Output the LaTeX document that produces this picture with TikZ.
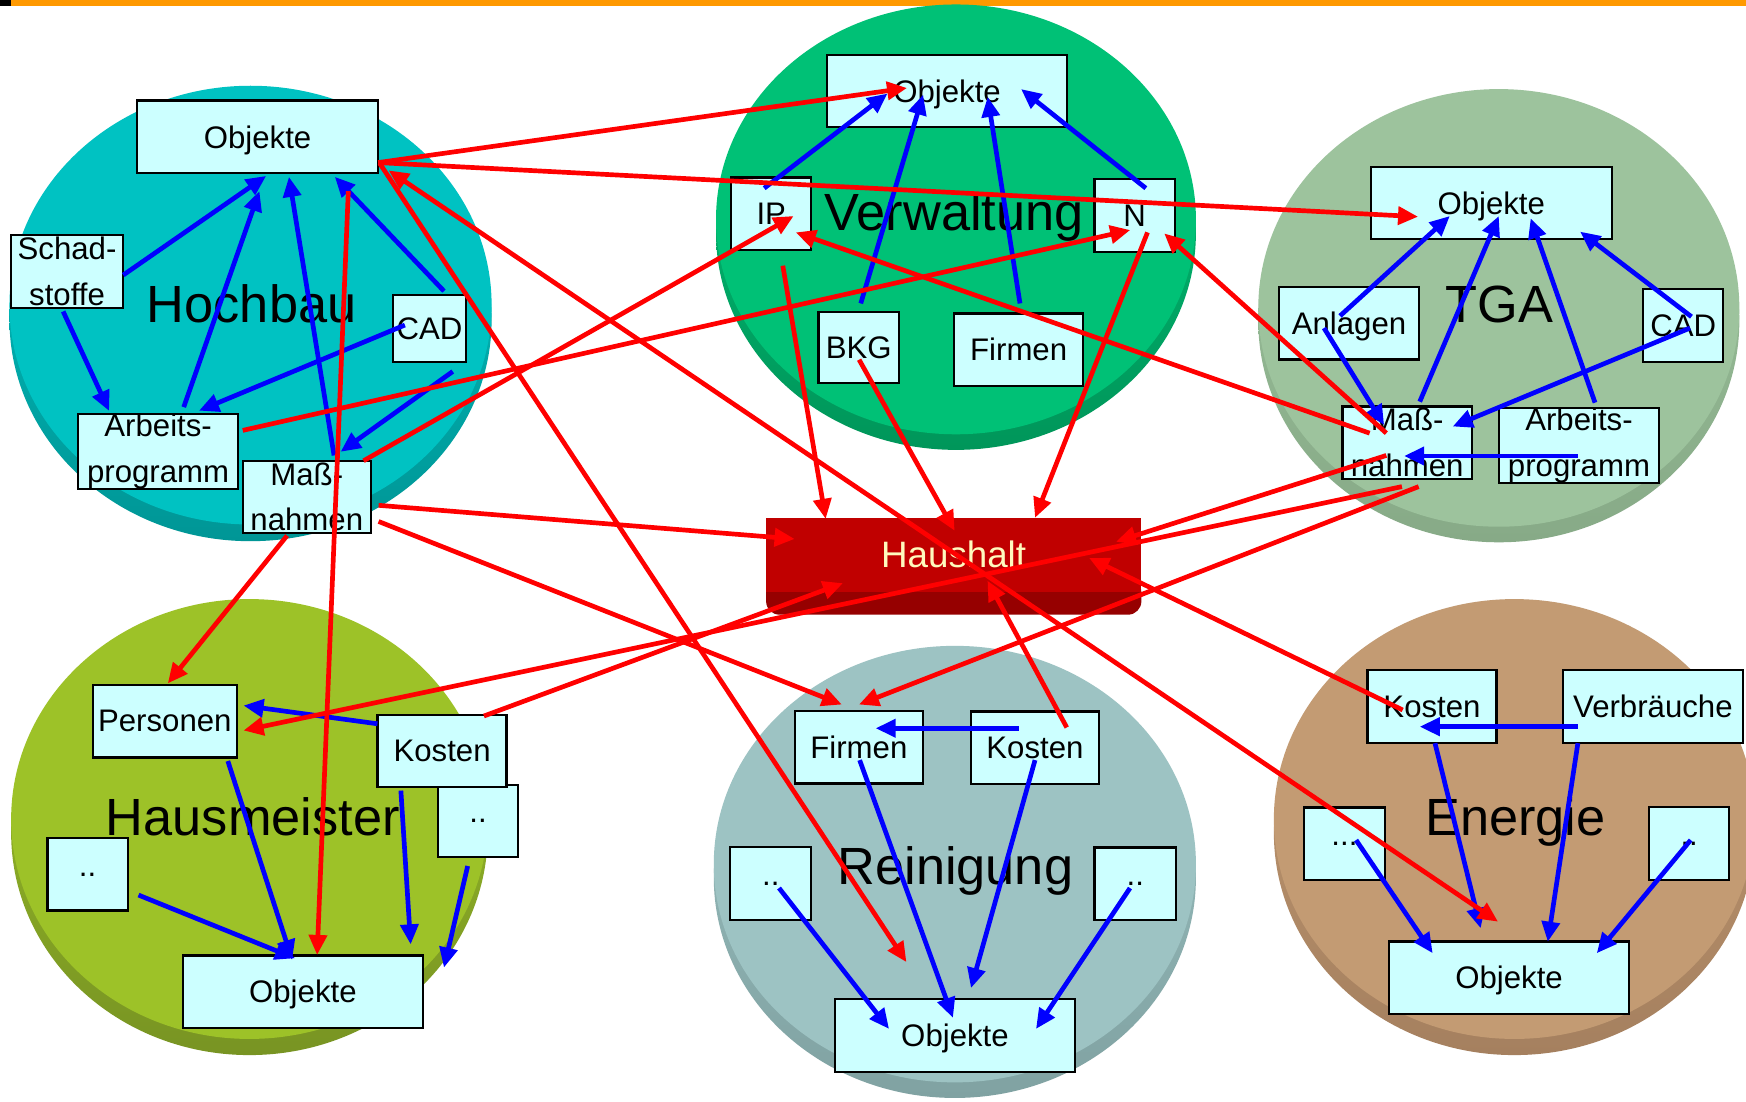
\documentclass[tikz,border=0pt]{standalone}
\usepackage{fontspec}
\setmainfont{Liberation Sans}
\usetikzlibrary{arrows.meta,calc}
\definecolor{boxfill}{HTML}{CCFFFF}
\definecolor{hochbau}{RGB}{0,194,194}
\definecolor{hochbaudk}{RGB}{0,150,150}
\definecolor{verw}{RGB}{0,193,118}
\definecolor{verwdk}{RGB}{0,150,90}
\definecolor{tga}{RGB}{157,195,157}
\definecolor{tgadk}{RGB}{135,170,135}
\definecolor{haus}{RGB}{157,194,40}
\definecolor{hausdk}{RGB}{120,148,35}
\definecolor{rein}{RGB}{157,195,195}
\definecolor{reindk}{RGB}{128,162,162}
\definecolor{ener}{RGB}{195,155,115}
\definecolor{enerdk}{RGB}{165,128,95}
\definecolor{hhred}{RGB}{192,0,0}
\definecolor{hhdark}{RGB}{150,0,0}
\definecolor{hhtext}{RGB}{255,250,190}
\definecolor{topbar}{RGB}{255,153,0}
\definecolor{arrowblue}{RGB}{0,0,255}
\definecolor{arrowred}{RGB}{255,0,0}
\begin{document}
\begin{tikzpicture}[x=1pt,y=-1pt,
  box/.style={draw=black, line width=2pt, fill=boxfill, inner sep=0pt, align=center,
    font=\fontsize{28}{41}\selectfont, minimum height=65pt},
  obox/.style={box, text depth=0pt},
  bigl/.style={font=\fontsize{47}{56}\selectfont, anchor=base, inner sep=0pt},
  barrow/.style={draw=arrowblue, line width=4.2pt, -{Triangle[length=18pt,width=16pt]}},
  rarrow/.style={draw=arrowred, line width=4.2pt, -{Triangle[length=18pt,width=16pt]}},
  rboth/.style={draw=arrowred, line width=4.2pt, {Triangle[length=18pt,width=16pt]}-{Triangle[length=18pt,width=16pt]}}]
\useasboundingbox (0,0) rectangle (1568,989);
\clip (0,0) rectangle (1568,989);
\fill[white] (0,0) rectangle (1568,989);
\fill[topbar] (0,0) rectangle (1568,5.3);
\fill[black] (0,0) rectangle (9.6,5.3);

% disks
\shade[top color=hochbau, bottom color=hochbaudk] (225,287) ellipse [x radius=216.5pt, y radius=199pt];
\fill[hochbau] (225,274) ellipse [x radius=216.5pt, y radius=197pt];
\shade[top color=verw, bottom color=verwdk] (858.5,209) ellipse [x radius=215.5pt, y radius=195pt];
\fill[verw] (858.5,197) ellipse [x radius=215.5pt, y radius=193pt];
\shade[top color=tga, bottom color=tgadk] (1346,288.5) ellipse [x radius=216pt, y radius=198.5pt];
\fill[tga] (1346,276.5) ellipse [x radius=216pt, y radius=196.5pt];
\shade[top color=haus, bottom color=hausdk] (224,748) ellipse [x radius=214pt, y radius=199.5pt];
\fill[haus] (224,735.5) ellipse [x radius=214pt, y radius=197.5pt];
\shade[top color=rein, bottom color=reindk] (857.5,788) ellipse [x radius=216.5pt, y radius=198pt];
\fill[rein] (857.5,776) ellipse [x radius=216.5pt, y radius=196pt];
\shade[top color=ener, bottom color=enerdk] (1360,748) ellipse [x radius=216pt, y radius=199.5pt];
\fill[ener] (1360,735.5) ellipse [x radius=216pt, y radius=197.5pt];

% disk labels
\node[bigl] (lHoch) at (226,290) {Hochbau};
\node[bigl] (lVerw) at (857,207) {Verwaltung};
\node[bigl] (lTGA) at (1346.7,290) {TGA};
\node[bigl] (lHaus) at (227,750) {Hausmeister};
\node[bigl] (lRein) at (858,794) {Reinigung};
\node[bigl] (lEner) at (1361,750) {Energie};

% Haushalt
\fill[hhdark, rounded corners=12pt] (688,520) -- (688,552) -- (1025,552) -- (1025,520) -- cycle;
\node[fill=hhred, minimum width=336.7pt, minimum height=66.4pt, inner sep=0pt, text=hhtext,
  font=\fontsize{33}{40}\selectfont] (hh) at (856.4,498.2) {Haushalt};

% Hochbau boxes
\node[obox, minimum width=216.6pt] (hObj) at (231.3,122.8) {Objekte};
\node[box, minimum width=101pt] (hSchad) at (60.2,243.8) {Schad-\\stoffe};
\node[box, minimum width=65.6pt, minimum height=60pt] (hCAD) at (385.8,295) {CAD};
\node[box, minimum width=144pt] (hArb) at (142,405.4) {Arbeits-\\programm};
\node[box, minimum width=115pt] (hMass) at (275.5,446.2) {Maß-\\nahmen};
% Verwaltung boxes
\node[obox, minimum width=215pt] (vObj) at (850.5,81.7) {Objekte};
\node[box, minimum width=72pt] (vIP) at (692.6,191.8) {IP};
\node[box, minimum width=72pt] (vN) at (1019,193.5) {N};
\node[box, minimum width=72.4pt, minimum height=64pt] (vBKG) at (771.2,312) {BKG};
\node[box, minimum width=115.6pt] (vFirm) at (914.8,314) {Firmen};
% TGA boxes
\node[obox, minimum width=216.4pt] (tObj) at (1339.2,182.3) {Objekte};
\node[obox, minimum width=126pt] (tAnl) at (1211.5,290.3) {Anlagen};
\node[box, minimum width=72pt] (tCAD) at (1511.6,292.3) {CAD};
\node[box, minimum width=116pt] (tMass) at (1263.7,397.5) {Maß-\\nahmen};
\node[box, minimum width=144pt] (tArb) at (1418,400.1) {Arbeits-\\programm};
% Hausmeister boxes
\node[box, minimum width=129pt] (mPers) at (148,647.7) {Personen};
\node[box, minimum width=71.5pt] (mDotR) at (429.3,737.4) {..};
\node[box, minimum width=115.8pt] (mKost) at (397,674.5) {Kosten};
\node[box, minimum width=72pt] (mDotL) at (78.7,785.2) {..};
\node[obox, minimum width=216pt] (mObj) at (272,890.5) {Objekte};
% Reinigung boxes
\node[box, minimum width=115.4pt] (rFirm) at (771.3,671.2) {Firmen};
\node[box, minimum width=115.2pt] (rKost) at (929.4,671.5) {Kosten};
\node[box, minimum width=72.7pt] (rDotL) at (692.2,793.4) {..};
\node[box, minimum width=73pt] (rDotR) at (1019.5,793.5) {..};
\node[obox, minimum width=216pt] (rObj) at (857.6,929.9) {Objekte};
% Energie boxes
\node[box, minimum width=116pt] (eKost) at (1286,634.4) {Kosten};
\node[box, minimum width=162pt] (eVerb) at (1484.4,634.4) {Verbräuche};
\node[box, minimum width=72.8pt] (eDotL) at (1207.4,757.7) {...};
\node[box, minimum width=72pt] (eDotR) at (1517,757.5) {..};
\node[obox, minimum width=215.5pt] (eObj) at (1355.2,877.9) {Objekte};

% blue arrows - Hochbau
\draw[barrow] ($(hSchad)+(50.5,3.2)$) -- ($(hObj)+(7.7,35.2)$);
\draw[barrow] ($(hSchad)+(-3.5,35.9)$) -- ($(hArb)+(-44,-36.4)$);
\draw[barrow] ($(hArb)+(23,-39.8)$) -- ($(hObj)+(1.7,48.8)$);
\draw[barrow] ($(hMass)+(24.5,-37.2)$) -- ($(hObj)+(28.2,36)$);
\draw[barrow] ($(hCAD)+(12.9,-33.6)$) -- ($(hObj)+(69.4,36)$);
\draw[barrow] ($(hCAD)+(-22.2,-3.1)$) -- ($(hArb)+(36.7,-36.6)$);
\draw[barrow] ($(hCAD)+(20.8,38.6)$) -- ($(hMass)+(30.4,-40.5)$);
% blue - Verwaltung
\draw[barrow] ($(vIP)+(-6.3,-22.8)$) -- ($(vObj)+(-53.5,2.3)$);
\draw[barrow] ($(vBKG)+(1.8,-39.5)$) -- ($(vObj)+(-21.5,3.3)$);
\draw[barrow] ($(vFirm)+(1.2,-41.5)$) -- ($(vObj)+(36.5,5.3)$);
\draw[barrow] ($(vN)+(10,-24.5)$) -- ($(vObj)+(66.5,-1.7)$);
% blue - TGA
\draw[barrow] ($(tAnl)+(-8.1,-6.6)$) -- ($(tObj)+(-37.2,11.7)$);
\draw[barrow] ($(tMass)+(11.3,-36.8)$) -- ($(tObj)+(6.8,11.7)$);
\draw[barrow] ($(tArb)+(14.4,-38.5)$) -- ($(tObj)+(35.4,13.7)$);
\draw[barrow] ($(tCAD)+(7.4,-7.9)$) -- ($(tObj)+(79.8,25.7)$);
\draw[barrow] ($(tCAD)+(6.1,2.3)$) -- ($(tMass)+(40.9,-14.5)$);
\draw[barrow] ($(tAnl)+(-22.5,4.3)$) -- ($(tMass)+(-20.7,-15.8)$);
\draw[barrow] ($(tArb)+(-1,9.4)$) -- ($(tMass)+(-2.7,12)$);
% blue - Hausmeister
\draw[barrow] ($(mKost)+(-58,-24.5)$) -- ($(mPers)+(70.7,-14.1)$);
\draw[barrow] ($(mPers)+(56.6,35.7)$) -- ($(mObj)+(-9.6,-28.5)$);
\draw[barrow] ($(mKost)+(-37,35.5)$) -- ($(mObj)+(96.8,-42.4)$);
\draw[barrow] ($(mDotR)+(-9.3,40.3)$) -- ($(mObj)+(126.7,-21.6)$);
\draw[barrow] ($(mDotL)+(45.7,18.6)$) -- ($(mObj)+(-7,-29.9)$);
% blue - Reinigung
\draw[barrow] ($(rKost)+(-14.6,-17.5)$) -- ($(rFirm)+(15.1,-17.2)$);
\draw[barrow] ($(rFirm)+(0.7,11.4)$) -- ($(rObj)+(-1.8,-15.9)$);
\draw[barrow] ($(rKost)+(0.1,11.1)$) -- ($(rObj)+(14.4,-42.6)$);
\draw[barrow] ($(rDotL)+(7.4,4.1)$) -- ($(rObj)+(-59.2,-5.9)$);
\draw[barrow] ($(rDotR)+(-4.7,4)$) -- ($(rObj)+(72.8,-5.9)$);
% blue - Energie
\draw[barrow] ($(eVerb)+(-67.4,18.2)$) -- ($(eKost)+(-11,18.2)$);
\draw[barrow] ($(eKost)+(2.7,33)$) -- ($(eObj)+(-25.5,-44.3)$);
\draw[barrow] ($(eVerb)+(-67.4,33)$) -- ($(eObj)+(34.8,-32.2)$);
\draw[barrow] ($(eDotL)+(10.4,-3.3)$) -- ($(eObj)+(-68.6,-21.9)$);
\draw[barrow] ($(eDotR)+(1.3,-3.1)$) -- ($(eObj)+(78.8,-21.9)$);

% red arrows
\draw[rarrow] ($(hObj)+(108.3,23.2)$) -- ($(vObj)+(-35.9,-2.7)$);
\draw[rarrow] ($(hObj)+(108.3,23.2)$) -- ($(tObj)+(-65.7,12.3)$);
\draw[rarrow] ($(hObj)+(109.7,23.9)$) -- ($(rObj)+(-43.6,-65.9)$);
\draw[rboth] ($(hObj)+(117.7,30.2)$) -- ($(eObj)+(-9.9,-50.2)$);
\draw[rarrow] ($(hMass)+(51,-32.4)$) -- ($(vIP)+(20.1,2.2)$);
\draw[rarrow] ($(hMass)+(64.5,7.6)$) -- ($(hh)+(-142.8,-14.2)$);
\draw[rarrow] ($(hMass)+(64.5,22.1)$) -- ($(rFirm)+(-15.3,-38.5)$);
\draw[rarrow] ($(hMass)+(-17.7,34.8)$) -- ($(mPers)+(2.7,-34)$);
\draw[rarrow] ($(hArb)+(76,-18.9)$) -- ($(vN)+(-4,13.1)$);
\draw[rarrow] ($(hObj)+(81.5,48.8)$) -- ($(mObj)+(12.8,-32.9)$);
\draw[rarrow] ($(vIP)+(10.4,46.8)$) -- ($(hh)+(-114.9,-32.2)$);
\draw[rarrow] ($(vBKG)+(0.3,11)$) -- ($(hh)+(0.9,-21.6)$);
\draw[rarrow] ($(vN)+(11.5,15.2)$) -- ($(hh)+(73.1,-33.2)$);
\draw[rarrow] ($(tMass)+(-33.7,-8.5)$) -- ($(vIP)+(22,16.9)$);
\draw[rarrow] ($(tMass)+(-18.7,-8.5)$) -- ($(vN)+(26.5,16.1)$);
\draw[rarrow] ($(tMass)+(-18.7,11.5)$) -- ($(hh)+(145.8,-11.7)$);
\draw[rarrow] ($(tMass)+(-4.7,39.5)$) -- ($(mPers)+(70.7,8.3)$);
\draw[rarrow] ($(tMass)+(10.3,39.5)$) -- ($(rFirm)+(0.1,-38.5)$);
\draw[rarrow] ($(mKost)+(37.6,-31.5)$) -- ($(hh)+(-99.4,25.5)$);
\draw[rarrow] ($(rKost)+(28.6,-18.2)$) -- ($(hh)+(30.4,23.3)$);
\draw[rarrow] ($(eKost)+(-26.3,3.2)$) -- ($(hh)+(121.6,2.8)$);
\end{tikzpicture}
\end{document}
